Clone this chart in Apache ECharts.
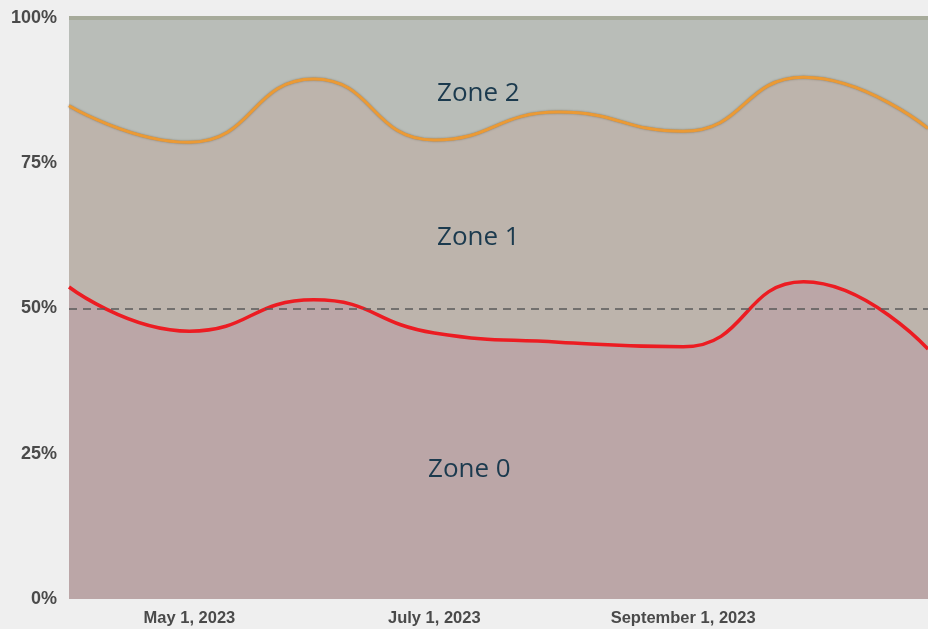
<!DOCTYPE html>
<html>
<head>
<meta charset="utf-8">
<script src="https://cdn.jsdelivr.net/npm/echarts@6/dist/echarts.min.js"></script>
<style>
  html, body { margin: 0; padding: 0; background: #efefef; }
  #chart { width: 928px; height: 629px; }
</style>
</head>
<body>
<div id="chart"></div>
<script>
// monthly points, share of total (%)
const dates = ["2023-04-01", "2023-05-01", "2023-06-01", "2023-07-01", "2023-08-01",
  "2023-09-01", "2023-10-01", "2023-11-01"];
const zone0Top = [53.7, 46.1, 51.5, 45.8, 44.2, 43.4, 54.6, 43.0];
const zone1Top = [84.9, 78.6, 89.5, 79.0, 83.8, 80.5, 89.8, 81.0];
const zone2Top = [100, 100, 100, 100, 100, 100, 100, 100];
const xLabelDates = ["2023-05-01", "2023-07-01", "2023-09-01"];
const yTicks = [0, 25, 50, 75, 100];
const zoneNames = ["Zone 0", "Zone 1", "Zone 2"];

const months = ["January", "February", "March", "April", "May", "June", "July",
  "August", "September", "October", "November", "December"];

function ts(d) {
  return new Date(d + "T00:00:00Z").getTime();
}
function pairs(vals) {
  return dates.map((d, i) => [ts(d), vals[i]]);
}

const chart = echarts.init(document.getElementById("chart"));

const labelFont = {
  fill: "#1b3a4e",
  fontSize: 26,
  fontFamily: "Open Sans",
};

chart.setOption({
  backgroundColor: "#efefef",
  animation: false,
  grid: { left: 69, top: 18, width: 863, height: 581 },
  xAxis: {
    type: "value",
    min: ts("2023-04-01"),
    max: ts("2023-11-01"),
    axisLine: { show: false },
    axisTick: { show: false },
    splitLine: { show: false },
    axisLabel: {
      customValues: xLabelDates.map(ts),
      margin: 11,
      color: "#4a4a4a",
      fontSize: 16.5,
      fontWeight: "bold",
      fontFamily: "Liberation Sans",
      formatter: (v) => {
        const d = new Date(v);
        return months[d.getUTCMonth()] + " " + d.getUTCDate() + ", " + d.getUTCFullYear();
      },
    },
  },
  yAxis: {
    type: "value",
    min: 0,
    max: 100,
    interval: 25,
    axisLine: { show: false },
    axisTick: { show: false },
    splitLine: { show: false },
    axisLabel: {
      margin: 12,
      color: "#4a4a4a",
      fontSize: 18,
      fontWeight: "bold",
      fontFamily: "Liberation Sans",
      formatter: (v) => (yTicks.includes(v) ? v + "%" : ""),
    },
  },
  series: [
    {
      name: zoneNames[2],
      type: "line",
      data: pairs(zone2Top),
      symbol: "none",
      lineStyle: { color: "#a7ab9b", width: 4 },
      areaStyle: { color: "#b9bdb8", opacity: 1 },
      z: 1,
    },
    {
      name: zoneNames[1],
      type: "line",
      data: pairs(zone1Top),
      smooth: 0.5,
      symbol: "none",
      lineStyle: {
        color: "#eb9a35",
        width: 3,
        shadowColor: "rgba(90,80,60,0.6)",
        shadowBlur: 2,
      },
      areaStyle: { color: "#bdb4ac", opacity: 1 },
      z: 2,
    },
    {
      name: zoneNames[0],
      type: "line",
      data: pairs(zone0Top),
      smooth: 0.5,
      symbol: "none",
      lineStyle: { color: "#ec1c22", width: 3.5 },
      areaStyle: { color: "#bba6a7", opacity: 1 },
      z: 3,
      markLine: {
        silent: true,
        symbol: "none",
        label: { show: false },
        lineStyle: { color: "#5a5a5a", type: [8, 6], width: 1.5 },
        data: [{ yAxis: 50 }],
      },
    },
  ],
  graphic: [
    { type: "text", left: 437, top: 81, z: 10, style: Object.assign({ text: zoneNames[2] }, labelFont) },
    { type: "text", left: 437, top: 225, z: 10, style: Object.assign({ text: zoneNames[1] }, labelFont) },
    { type: "text", left: 428, top: 457, z: 10, style: Object.assign({ text: zoneNames[0] }, labelFont) },
  ],
});
</script>
</body>
</html>
